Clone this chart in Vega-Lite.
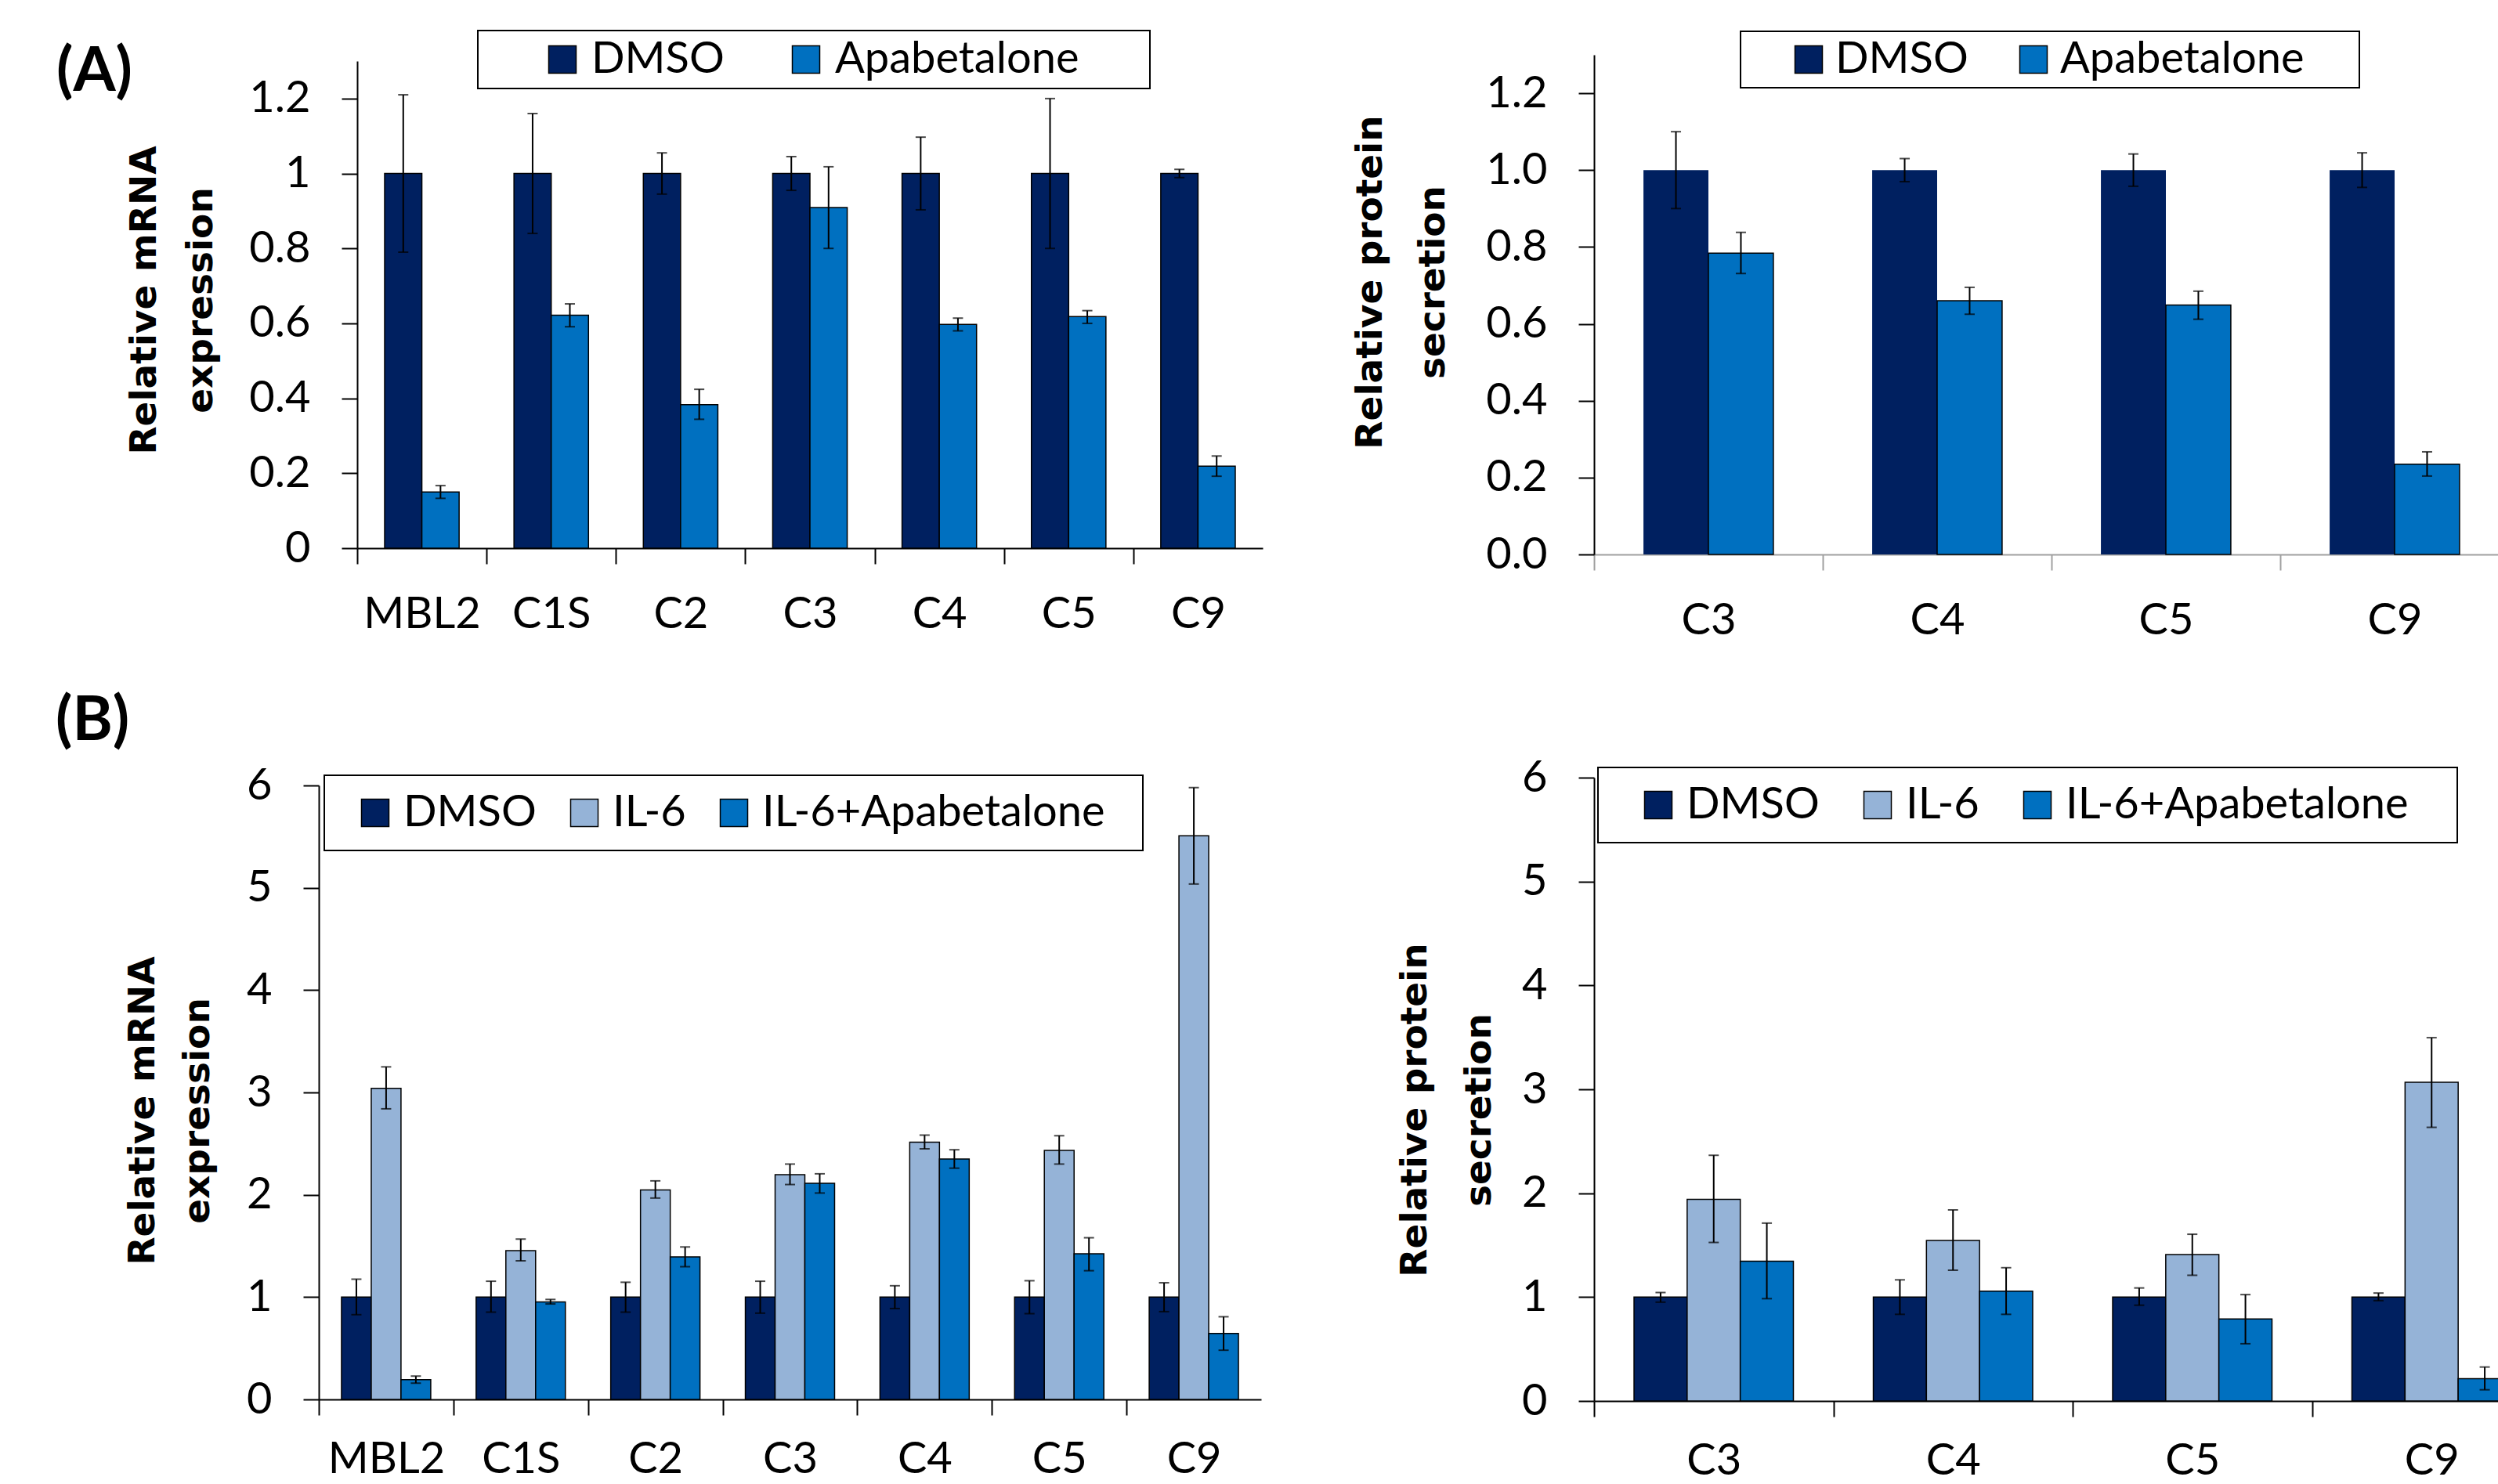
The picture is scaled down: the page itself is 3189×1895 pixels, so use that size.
{
  "$schema": "https://vega.github.io/schema/vega-lite/v6.json",
  "padding": {"left": 71, "top": 38, "right": 0, "bottom": 0},
  "background": "white",
  "config": {
    "font": "Lato",
    "view": {"stroke": null},
    "axis": {"grid": false, "domainColor": "#000000", "domainWidth": 2, "tickColor": "#000000", "tickWidth": 2, "tickSize": 20, "labelFont": "Lato", "labelFontSize": 56, "labelColor": "#000000", "titleFont": "DejaVu Sans", "titleFontSize": 47, "titleFontWeight": "bold", "titleColor": "#000000"},
    "legend": {"strokeColor": "#000000", "strokeWidth": 2, "labelFont": "Lato", "labelFontSize": 56, "labelColor": "#000000", "labelLimit": 1000, "symbolType": "square", "symbolSize": 1225, "symbolStrokeColor": "#000000", "symbolStrokeWidth": 1.5, "direction": "horizontal", "orient": "none", "titleOrient": "right", "titleFontSize": 1}
  },
  "datasets": {
    "mrnaA": [
      {"gene": "MBL2", "treatment": "DMSO", "value": 1.0, "lo": 0.79, "hi": 1.21},
      {"gene": "MBL2", "treatment": "Apabetalone", "value": 0.15, "lo": 0.133, "hi": 0.167},
      {"gene": "C1S", "treatment": "DMSO", "value": 1.0, "lo": 0.84, "hi": 1.16},
      {"gene": "C1S", "treatment": "Apabetalone", "value": 0.622, "lo": 0.591, "hi": 0.652},
      {"gene": "C2", "treatment": "DMSO", "value": 1.0, "lo": 0.945, "hi": 1.055},
      {"gene": "C2", "treatment": "Apabetalone", "value": 0.383, "lo": 0.344, "hi": 0.424},
      {"gene": "C3", "treatment": "DMSO", "value": 1.0, "lo": 0.955, "hi": 1.045},
      {"gene": "C3", "treatment": "Apabetalone", "value": 0.909, "lo": 0.80, "hi": 1.018},
      {"gene": "C4", "treatment": "DMSO", "value": 1.0, "lo": 0.903, "hi": 1.097},
      {"gene": "C4", "treatment": "Apabetalone", "value": 0.597, "lo": 0.58, "hi": 0.614},
      {"gene": "C5", "treatment": "DMSO", "value": 1.0, "lo": 0.80, "hi": 1.20},
      {"gene": "C5", "treatment": "Apabetalone", "value": 0.618, "lo": 0.60, "hi": 0.634},
      {"gene": "C9", "treatment": "DMSO", "value": 1.0, "lo": 0.989, "hi": 1.011},
      {"gene": "C9", "treatment": "Apabetalone", "value": 0.219, "lo": 0.192, "hi": 0.246}
    ],
    "protA": [
      {"gene": "C3", "treatment": "DMSO", "value": 1.0, "lo": 0.90, "hi": 1.10},
      {"gene": "C3", "treatment": "Apabetalone", "value": 0.784, "lo": 0.731, "hi": 0.838},
      {"gene": "C4", "treatment": "DMSO", "value": 1.0, "lo": 0.970, "hi": 1.030},
      {"gene": "C4", "treatment": "Apabetalone", "value": 0.660, "lo": 0.625, "hi": 0.695},
      {"gene": "C5", "treatment": "DMSO", "value": 1.0, "lo": 0.958, "hi": 1.042},
      {"gene": "C5", "treatment": "Apabetalone", "value": 0.649, "lo": 0.612, "hi": 0.685},
      {"gene": "C9", "treatment": "DMSO", "value": 1.0, "lo": 0.955, "hi": 1.045},
      {"gene": "C9", "treatment": "Apabetalone", "value": 0.235, "lo": 0.204, "hi": 0.267}
    ],
    "mrnaB": [
      {"gene": "MBL2", "treatment": "DMSO", "value": 1.0, "lo": 0.828, "hi": 1.175},
      {"gene": "MBL2", "treatment": "IL-6", "value": 3.04, "lo": 2.84, "hi": 3.25},
      {"gene": "MBL2", "treatment": "IL-6+Apabetalone", "value": 0.194, "lo": 0.159, "hi": 0.228},
      {"gene": "C1S", "treatment": "DMSO", "value": 1.0, "lo": 0.853, "hi": 1.155},
      {"gene": "C1S", "treatment": "IL-6", "value": 1.454, "lo": 1.354, "hi": 1.567},
      {"gene": "C1S", "treatment": "IL-6+Apabetalone", "value": 0.952, "lo": 0.933, "hi": 0.977},
      {"gene": "C2", "treatment": "DMSO", "value": 1.0, "lo": 0.853, "hi": 1.145},
      {"gene": "C2", "treatment": "IL-6", "value": 2.047, "lo": 1.968, "hi": 2.136},
      {"gene": "C2", "treatment": "IL-6+Apabetalone", "value": 1.393, "lo": 1.297, "hi": 1.49},
      {"gene": "C3", "treatment": "DMSO", "value": 1.0, "lo": 0.843, "hi": 1.155},
      {"gene": "C3", "treatment": "IL-6", "value": 2.196, "lo": 2.10, "hi": 2.30},
      {"gene": "C3", "treatment": "IL-6+Apabetalone", "value": 2.112, "lo": 2.017, "hi": 2.205},
      {"gene": "C4", "treatment": "DMSO", "value": 1.0, "lo": 0.888, "hi": 1.111},
      {"gene": "C4", "treatment": "IL-6", "value": 2.514, "lo": 2.449, "hi": 2.583},
      {"gene": "C4", "treatment": "IL-6+Apabetalone", "value": 2.35, "lo": 2.26, "hi": 2.44},
      {"gene": "C5", "treatment": "DMSO", "value": 1.0, "lo": 0.838, "hi": 1.16},
      {"gene": "C5", "treatment": "IL-6", "value": 2.433, "lo": 2.30, "hi": 2.577},
      {"gene": "C5", "treatment": "IL-6+Apabetalone", "value": 1.423, "lo": 1.258, "hi": 1.58},
      {"gene": "C9", "treatment": "DMSO", "value": 1.0, "lo": 0.858, "hi": 1.14},
      {"gene": "C9", "treatment": "IL-6", "value": 5.508, "lo": 5.037, "hi": 5.979},
      {"gene": "C9", "treatment": "IL-6+Apabetalone", "value": 0.645, "lo": 0.481, "hi": 0.808}
    ],
    "protB": [
      {"gene": "C3", "treatment": "DMSO", "value": 1.0, "lo": 0.951, "hi": 1.044},
      {"gene": "C3", "treatment": "IL-6", "value": 1.941, "lo": 1.526, "hi": 2.365},
      {"gene": "C3", "treatment": "IL-6+Apabetalone", "value": 1.346, "lo": 0.985, "hi": 1.712},
      {"gene": "C4", "treatment": "DMSO", "value": 1.0, "lo": 0.834, "hi": 1.166},
      {"gene": "C4", "treatment": "IL-6", "value": 1.546, "lo": 1.259, "hi": 1.839},
      {"gene": "C4", "treatment": "IL-6+Apabetalone", "value": 1.058, "lo": 0.834, "hi": 1.283},
      {"gene": "C5", "treatment": "DMSO", "value": 1.0, "lo": 0.922, "hi": 1.088},
      {"gene": "C5", "treatment": "IL-6", "value": 1.41, "lo": 1.21, "hi": 1.605},
      {"gene": "C5", "treatment": "IL-6+Apabetalone", "value": 0.79, "lo": 0.551, "hi": 1.024},
      {"gene": "C9", "treatment": "DMSO", "value": 1.0, "lo": 0.966, "hi": 1.039},
      {"gene": "C9", "treatment": "IL-6", "value": 3.068, "lo": 2.634, "hi": 3.497},
      {"gene": "C9", "treatment": "IL-6+Apabetalone", "value": 0.215, "lo": 0.108, "hi": 0.327}
    ]
  },
  "columns": 2,
  "align": "none",
  "bounds": "flush",
  "spacing": {"row": 285, "column": 423},
  "resolve": {"scale": {"color": "independent", "x": "independent", "y": "independent", "xOffset": "independent"}, "legend": {"color": "independent"}},
  "concat": [
    {
      "width": 1205,
      "height": 638,
      "data": {"name": "mrnaA"},
      "title": {"text": "(A)", "anchor": "start", "frame": "group", "orient": "top", "offset": 0, "dx": -335, "dy": 156, "baseline": "alphabetic", "align": "left", "font": "Lato", "fontSize": 78, "fontWeight": "bold", "color": "#000000"},
      "encoding": {
        "x": {"field": "gene", "type": "nominal", "sort": ["MBL2", "C1S", "C2", "C3", "C4", "C5", "C9"], "scale": {"range": [49, 1205], "paddingInner": 0.424, "paddingOuter": 0.212}, "axis": {"title": null, "labelAngle": 0, "labelPadding": 37, "tickOffset": -82.57, "labelOffset": 82.57, "offset": -8}},
        "xOffset": {"field": "treatment", "type": "nominal", "sort": ["DMSO", "Apabetalone"], "scale": {"paddingInner": 0, "paddingOuter": 0}},
        "y": {"field": "value", "type": "quantitative", "scale": {"domain": [0, 1.3], "range": [630, 8], "nice": false, "zero": true}, "axis": {"title": ["Relative mRNA", "expression"], "values": [0, 0.2, 0.4, 0.6, 0.8, 1, 1.2], "format": "~g", "labelPadding": 40, "offset": -49, "titleX": -258, "titleY": 313, "titleAngle": 270, "titleAlign": "center", "titleBaseline": "alphabetic", "titleLineHeight": 72}}
      },
      "layer": [
        {
          "mark": {"type": "bar", "stroke": "#000000", "strokeWidth": 1.5},
          "encoding": {
            "color": {"field": "treatment", "type": "nominal", "scale": {"domain": ["DMSO", "Apabetalone"], "range": ["#002060", "#0070C0"]}, "legend": {"title": " ", "legendX": 203, "legendY": -31, "padding": 9, "symbolOffset": 71, "labelOffset": 9, "columnPadding": 5, "titlePadding": 82}}
          }
        },
        {"mark": {"type": "rule", "color": "#000000", "strokeWidth": 2}, "encoding": {"y": {"field": "lo", "type": "quantitative"}, "y2": {"field": "hi"}}},
        {"mark": {"type": "tick", "color": "#000000", "size": 13, "thickness": 2}, "encoding": {"y": {"field": "lo", "type": "quantitative"}}},
        {"mark": {"type": "tick", "color": "#000000", "size": 13, "thickness": 2}, "encoding": {"y": {"field": "hi", "type": "quantitative"}}}
      ]
    },
    {
      "width": 1168,
      "height": 638,
      "data": {"name": "protA"},
      "encoding": {
        "x": {"field": "gene", "type": "nominal", "sort": ["C3", "C4", "C5", "C9"], "scale": {"paddingInner": 0.432, "paddingOuter": 0.216}, "axis": {"title": null, "labelAngle": 0, "labelPadding": 37, "tickOffset": -146, "labelOffset": 146, "domainColor": "#a0a0a0", "tickColor": "#a0a0a0"}},
        "xOffset": {"field": "treatment", "type": "nominal", "sort": ["DMSO", "Apabetalone"], "scale": {"paddingInner": 0, "paddingOuter": 0}},
        "y": {"field": "value", "type": "quantitative", "scale": {"domain": [0, 1.3], "nice": false, "zero": true}, "axis": {"title": ["Relative protein", "secretion"], "values": [0, 0.2, 0.4, 0.6, 0.8, 1, 1.2], "format": ".1f", "labelPadding": 40, "titleX": -272, "titleY": 290, "titleAngle": 270, "titleAlign": "center", "titleBaseline": "alphabetic", "titleLineHeight": 80}}
      },
      "layer": [
        {
          "mark": {"type": "bar", "stroke": "#000000", "strokeWidth": 1.5},
          "encoding": {
            "color": {"field": "treatment", "type": "nominal", "scale": {"domain": ["DMSO", "Apabetalone"], "range": ["#002060", "#0070C0"]}, "legend": {"title": " ", "legendX": 187, "legendY": -30, "padding": 8, "symbolOffset": 51, "labelOffset": 6, "columnPadding": 4, "titlePadding": 63}},
            "strokeOpacity": {"condition": {"test": "datum.treatment === 'DMSO'", "value": 0}, "value": 1}
          }
        },
        {"mark": {"type": "rule", "color": "#000000", "strokeWidth": 2}, "encoding": {"y": {"field": "lo", "type": "quantitative"}, "y2": {"field": "hi"}}},
        {"mark": {"type": "tick", "color": "#000000", "size": 13, "thickness": 2}, "encoding": {"y": {"field": "lo", "type": "quantitative"}}},
        {"mark": {"type": "tick", "color": "#000000", "size": 13, "thickness": 2}, "encoding": {"y": {"field": "hi", "type": "quantitative"}}}
      ]
    },
    {
      "width": 1203,
      "height": 796,
      "data": {"name": "mrnaB"},
      "title": {"text": "(B)", "anchor": "start", "frame": "group", "orient": "top", "offset": 0, "dx": -336, "dy": 48, "baseline": "alphabetic", "align": "left", "font": "Lato", "fontSize": 78, "fontWeight": "bold", "color": "#000000"},
      "encoding": {
        "x": {"field": "gene", "type": "nominal", "sort": ["MBL2", "C1S", "C2", "C3", "C4", "C5", "C9"], "scale": {"paddingInner": 0.337, "paddingOuter": 0.1685}, "axis": {"title": null, "labelAngle": 0, "labelPadding": 29, "tickOffset": -85.93, "labelOffset": 85.93, "offset": -2}},
        "xOffset": {"field": "treatment", "type": "nominal", "sort": ["DMSO", "IL-6", "IL-6+Apabetalone"], "scale": {"paddingInner": 0, "paddingOuter": 0}},
        "y": {"field": "value", "type": "quantitative", "scale": {"domain": [0, 6], "range": [794, 10], "nice": false, "zero": true}, "axis": {"title": ["Relative mRNA", "expression"], "values": [0, 1, 2, 3, 4, 5, 6], "format": "d", "labelPadding": 40, "titleX": -211, "titleY": 425, "titleAngle": 270, "titleAlign": "center", "titleBaseline": "alphabetic", "titleLineHeight": 70}}
      },
      "layer": [
        {
          "mark": {"type": "bar", "stroke": "#000000", "strokeWidth": 1.5},
          "encoding": {
            "color": {"field": "treatment", "type": "nominal", "scale": {"domain": ["DMSO", "IL-6", "IL-6+Apabetalone"], "range": ["#002060", "#95B3D7", "#0070C0"]}, "legend": {"title": " ", "legendX": 7, "legendY": -3, "padding": 20, "symbolOffset": 17, "labelOffset": 8, "columnPadding": 16, "titlePadding": 28}}
          }
        },
        {"mark": {"type": "rule", "color": "#000000", "strokeWidth": 2}, "encoding": {"y": {"field": "lo", "type": "quantitative"}, "y2": {"field": "hi"}}},
        {"mark": {"type": "tick", "color": "#000000", "size": 13, "thickness": 2}, "encoding": {"y": {"field": "lo", "type": "quantitative"}}},
        {"mark": {"type": "tick", "color": "#000000", "size": 13, "thickness": 2}, "encoding": {"y": {"field": "hi", "type": "quantitative"}}}
      ]
    },
    {
      "width": 1222,
      "height": 796,
      "data": {"name": "protB"},
      "encoding": {
        "x": {"field": "gene", "type": "nominal", "sort": ["C3", "C4", "C5", "C9"], "scale": {"paddingInner": 0.334, "paddingOuter": 0.167}, "axis": {"title": null, "labelAngle": 0, "labelPadding": 29, "tickOffset": -152.75, "labelOffset": 152.75}},
        "xOffset": {"field": "treatment", "type": "nominal", "sort": ["DMSO", "IL-6", "IL-6+Apabetalone"], "scale": {"paddingInner": 0, "paddingOuter": 0}},
        "y": {"field": "value", "type": "quantitative", "scale": {"domain": [0, 6], "nice": false, "zero": true}, "axis": {"title": ["Relative protein", "secretion"], "values": [0, 1, 2, 3, 4, 5, 6], "format": "d", "labelPadding": 40, "titleX": -215, "titleY": 424, "titleAngle": 270, "titleAlign": "center", "titleBaseline": "alphabetic", "titleLineHeight": 82}}
      },
      "layer": [
        {
          "mark": {"type": "bar", "stroke": "#000000", "strokeWidth": 1.5},
          "encoding": {
            "color": {"field": "treatment", "type": "nominal", "scale": {"domain": ["DMSO", "IL-6", "IL-6+Apabetalone"], "range": ["#002060", "#95B3D7", "#0070C0"]}, "legend": {"title": " ", "legendX": 5, "legendY": -13, "padding": 20, "symbolOffset": 29, "labelOffset": 8, "columnPadding": 17, "titlePadding": 42}}
          }
        },
        {"mark": {"type": "rule", "color": "#000000", "strokeWidth": 2}, "encoding": {"y": {"field": "lo", "type": "quantitative"}, "y2": {"field": "hi"}}},
        {"mark": {"type": "tick", "color": "#000000", "size": 13, "thickness": 2}, "encoding": {"y": {"field": "lo", "type": "quantitative"}}},
        {"mark": {"type": "tick", "color": "#000000", "size": 13, "thickness": 2}, "encoding": {"y": {"field": "hi", "type": "quantitative"}}}
      ]
    }
  ]
}
